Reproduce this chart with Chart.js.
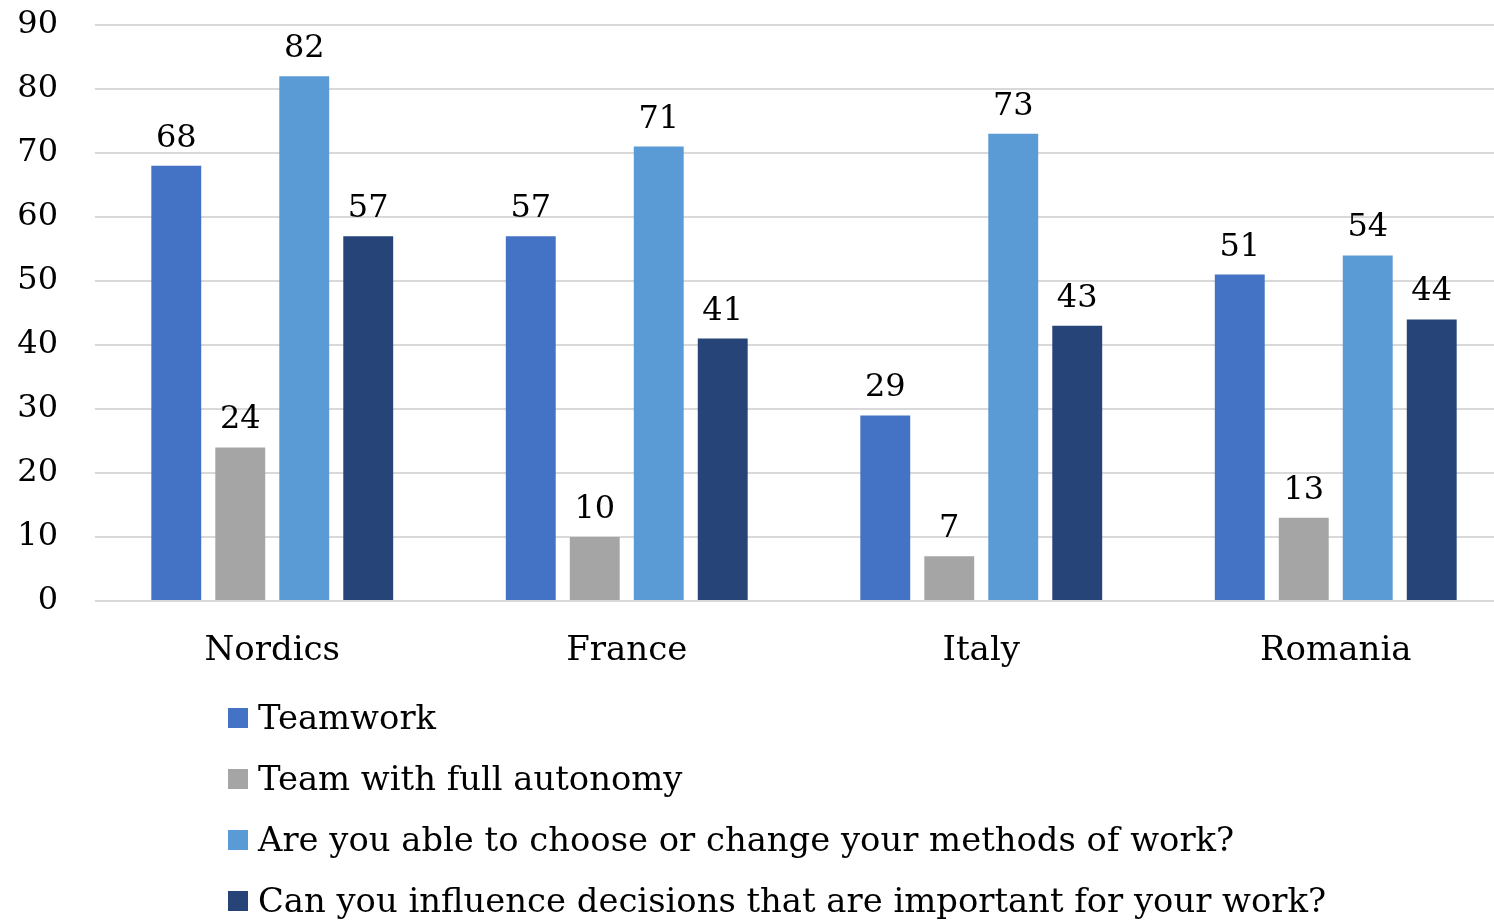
<!DOCTYPE html>
<html>
<head>
<meta charset="utf-8">
<script src="https://cdn.jsdelivr.net/npm/chart.js@4.4.1/dist/chart.umd.min.js"></script>
<style>
  html, body { margin: 0; padding: 0; background: #fff; overflow: hidden; }
  #wrap { position: relative; width: 1494px; height: 921px; overflow: hidden; }
  #chart { position: absolute; left: 0; top: 0; }
  #legend { position: absolute; left: 228px; top: 687px; font-family: "DejaVu Serif", serif; font-size: 33.8px; color: #000; }
  .item { height: 61px; display: flex; align-items: center; }
  .box { width: 20px; height: 20px; margin-right: 10px; }
</style>
</head>
<body>
<div id="wrap">
  <!-- plot runs a little past the right edge, the wrapper clips it -->
  <canvas id="chart" width="1513" height="690"></canvas>
  <div id="legend"></div>
</div>
<script>
const regions = ["Nordics", "France", "Italy", "Romania"]
const seriesNames = [
  "Teamwork",
  "Team with full autonomy",
  "Are you able to choose or change your methods of work?",
  "Can you influence decisions that are important for your work?",
]
const teamwork = [68, 57, 29, 51]
const fullAutonomy = [24, 10, 7, 13]
const chooseMethods = [82, 71, 73, 54]
const influenceDecisions = [57, 41, 43, 44]
const seriesColors = ["#4472C4", "#A5A5A5", "#5B9BD5", "#264478"]
const yTicks = [0, 10, 20, 30, 40, 50, 60, 70, 80, 90]

const FONT = "'DejaVu Serif', serif"

// value numbers above each bar
const barValues = {
  id: "barValues",
  afterDatasetsDraw(chart) {
    const ctx = chart.ctx
    ctx.save()
    ctx.font = "32px " + FONT
    ctx.fillStyle = "#000"
    ctx.textAlign = "center"
    ctx.textBaseline = "alphabetic"
    chart.data.datasets.forEach((ds, i) => {
      chart.getDatasetMeta(i).data.forEach((bar, j) => {
        ctx.fillText(String(ds.data[j]), bar.x, bar.y - 19)
      })
    })
    ctx.restore()
  },
}

const allSeries = [teamwork, fullAutonomy, chooseMethods, influenceDecisions]

const myChart = new Chart(document.getElementById("chart"), {
  type: "bar",
  plugins: [barValues],
  data: {
    labels: regions,
    datasets: allSeries.map((vals, i) => ({
      label: seriesNames[i],
      data: vals,
      backgroundColor: seriesColors[i],
      borderWidth: 0,
      categoryPercentage: 0.722,
      barPercentage: 0.78,
    })),
  },
  options: {
    responsive: false,
    animation: false,
    layout: { padding: { top: 25, left: 0, right: 0, bottom: 0 } },
    plugins: {
      legend: { display: false },
      tooltip: { enabled: false },
    },
    scales: {
      x: {
        grid: { display: false, drawTicks: false },
        border: { display: false },
        ticks: { color: "#000", font: { family: FONT, size: 34 }, padding: 30 },
        afterFit(scale) { scale.height = 89 },
      },
      y: {
        min: 0,
        max: 90,
        afterBuildTicks(scale) {
          scale.ticks = yTicks.map(v => ({ value: v }))
        },
        grid: { color: "#D9D9D9", lineWidth: 2, drawTicks: false },
        border: { display: false },
        ticks: { color: "#000", font: { family: FONT, size: 32 }, padding: 37 },
        afterFit(scale) {
          scale.width = 95
          scale.paddingTop = 0
          scale.paddingBottom = 0
        },
      },
    },
  },
})

// legend list, one row per series
const legendEl = document.getElementById("legend")
myChart.data.datasets.forEach(ds => {
  const row = document.createElement("div")
  row.className = "item"
  const sw = document.createElement("div")
  sw.className = "box"
  sw.style.background = ds.backgroundColor
  const txt = document.createElement("span")
  txt.textContent = ds.label
  row.appendChild(sw)
  row.appendChild(txt)
  legendEl.appendChild(row)
})
</script>
</body>
</html>
